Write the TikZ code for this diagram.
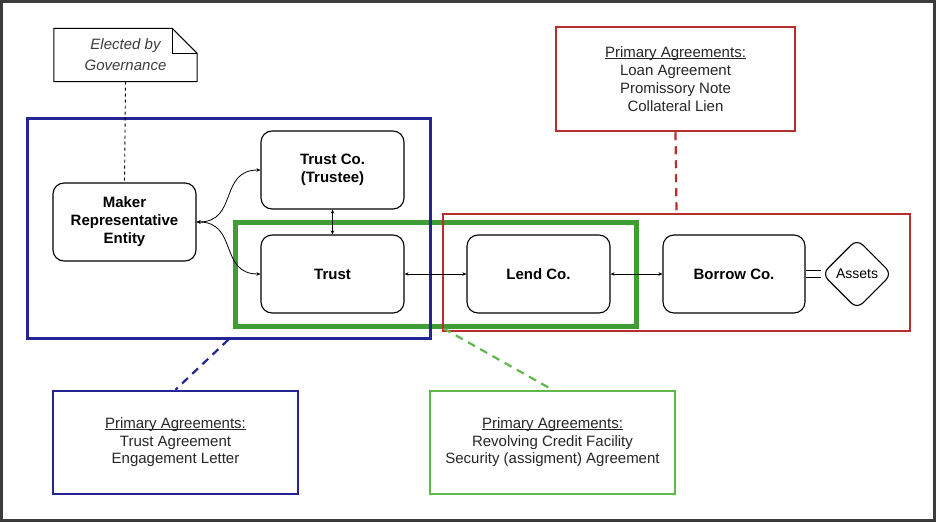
\documentclass[tikz,border=0pt]{standalone}
\usepackage{fontspec}
\setmainfont{Liberation Sans}
\usetikzlibrary{
  shapes.geometric,
  arrows.meta,
  calc
}
\definecolor{grpBlue}{RGB}{36,36,150}
\definecolor{grpGreen}{RGB}{62,158,52}
\definecolor{grpRed}{RGB}{185,45,45}
\definecolor{boxGreen}{RGB}{96,184,76}
\definecolor{frameGray}{RGB}{60,60,60}
\definecolor{noteGray}{RGB}{60,60,60}
\newcommand{\headline}[1]{\setbox0\hbox{#1}\rlap{\rule[-1.2pt]{\wd0}{0.6pt}}\box0}

\begin{document}
\begin{tikzpicture}[x=1pt, y=-1pt, font=\fontsize{15}{17.5}\selectfont,
  entity/.style={draw, rounded corners=11pt, line width=1.1pt, minimum width=143pt,
    minimum height=78pt, align=center, font=\fontsize{15}{18}\selectfont\bfseries},
  group/.style={draw=#1, minimum width=0pt, inner sep=0pt},
  agree/.style={draw=#1, line width=2.5pt, minimum width=245pt, minimum height=103pt,
    align=center, text=black!85},
  conn/.style={{Stealth[length=4pt,width=3.5pt]}-{Stealth[length=4pt,width=3.5pt]}, line width=0.8pt},
  link/.style={dashed, dash pattern=on 8pt off 6pt, line width=2.2pt, draw=#1}]

% Frame
\useasboundingbox (0,0) rectangle (936,522);
\draw[frameGray, line width=3pt] (1.5,1.5) rectangle (934.5,520.5);

% Groups
\node[group=grpGreen, line width=5pt, minimum width=401pt, minimum height=104pt] (greengrp) at (435.5,274) {};
\node[group=grpBlue,  line width=3pt, minimum width=403pt, minimum height=220pt] (bluegrp)  at (228.5,228) {};
\node[group=grpRed,   line width=2.5pt, minimum width=467pt, minimum height=117pt] (redgrp) at (676.5,272.5) {};

% Entities
\node[entity] (maker)   at (124.5,222) {Maker\\Representative\\Entity};
\node[entity] (trustco) at (332.5,170) {Trust Co.\\(Trustee)};
\node[entity] (trust)   at (332.5,274) {Trust};
\node[entity] (lend)    at (538.5,274) {Lend Co.};
\node[entity, minimum width=142pt] (borrow) at (734,274) {Borrow Co.};
\node[draw, diamond, rounded corners=8pt, line width=1.1pt, minimum width=70pt,
      minimum height=70pt, inner sep=0pt, font=\fontsize{14}{16}\selectfont] (assets) at (857,274) {Assets};

% Note
\node[minimum width=143pt, minimum height=53pt, align=center, text=noteGray,
      font=\fontsize{15}{21}\selectfont\itshape] (note) at (125.5,55) {Elected by\\Governance};
\draw[line width=1pt] (note.north west) -- ($(note.north east)+(-25,0)$)
  -- ($(note.north east)+(0,25)$) -- (note.south east) -- (note.south west) -- cycle;
\draw[line width=1pt] ($(note.north east)+(-25,0)$) |- ($(note.north east)+(0,25)$);

% Agreements
\node[agree=grpRed, minimum width=239pt, minimum height=104pt, font=\fontsize{15}{18}\selectfont] (redtop) at (675.5,79)
  {\headline{Primary Agreements:}\\Loan Agreement\\Promissory Note\\Collateral Lien};
\node[agree=grpBlue] (bluebox) at (175.5,442.5)
  {\headline{Primary Agreements:}\\Trust Agreement\\Engagement Letter};
\node[agree=boxGreen] (greenbox) at (552.5,442.5)
  {\headline{Primary Agreements:}\\Revolving Credit Facility\\Security (assigment) Agreement};

% Connectors
\draw[conn] (maker.east) to[out=0, in=180, looseness=1.3] (trustco.west);
\draw[conn] (maker.east) to[out=0, in=180, looseness=1.3] (trust.west);
\draw[conn] (trustco.south) -- (trust.north);
\draw[conn] (trust.east) -- (lend.west);
\draw[conn] (lend.east) -- (borrow.west);
\draw[line width=0.9pt, transform canvas={yshift=-3.5pt}] (borrow.east) -- (assets.west);
\draw[line width=0.9pt, transform canvas={yshift=3.5pt}] (borrow.east) -- (assets.west);

% Dashed links
\draw[dashed, line width=0.9pt] (note.south) -- (maker.north);
\draw[link=grpRed] (redtop.south) -- (redgrp.north);
\draw[link=grpBlue] (bluegrp.south) -- (bluebox.north);
\draw[link=boxGreen] ($(greengrp.south west)!0.52!(greengrp.south east)$) -- (greenbox.north);

\end{tikzpicture}
\end{document}
